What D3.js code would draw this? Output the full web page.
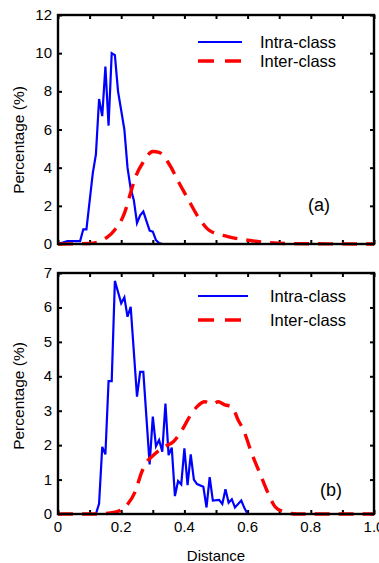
<!doctype html>
<html>
<head>
<meta charset="utf-8">
<script src="https://cdn.jsdelivr.net/npm/d3@7"></script>
<style>
  body { margin: 0; background: #fff; }
  text { font-family: "Liberation Sans", Arial, sans-serif; fill: #000; }
</style>
</head>
<body>
<svg width="379" height="563"></svg>
<script>
// panel (a)
var intraAX = [0, 0.03, 0.07, 0.08, 0.09, 0.11, 0.12, 0.13, 0.14, 0.15, 0.16, 0.17, 0.18, 0.19, 0.21, 0.22, 0.23, 0.24, 0.25, 0.26, 0.27, 0.28, 0.29, 0.30, 0.31, 0.32, 0.33, 1.0];
var intraAY = [0, 0.15, 0.15, 0.77, 0.77, 3.7, 4.7, 7.6, 6.7, 9.3, 6.2, 10.0, 9.9, 8.0, 6.0, 4.0, 2.9, 2.3, 1.1, 1.5, 1.7, 1.2, 0.7, 0.65, 0.2, 0.05, 0, 0];
var interAX = [0, 0.10, 0.155, 0.18, 0.21, 0.23, 0.245, 0.27, 0.30, 0.32, 0.355, 0.38, 0.41, 0.45, 0.48, 0.535, 0.60, 0.66, 0.73, 1.0];
var interAY = [0, 0.03, 0.35, 0.75, 1.6, 2.7, 3.5, 4.3, 4.85, 4.8, 4.1, 3.3, 2.4, 1.26, 0.7, 0.4, 0.2, 0.08, 0.02, 0];

// panel (b)
var intraBX = [0, 0.12, 0.13, 0.14, 0.15, 0.16, 0.17, 0.18, 0.19, 0.20, 0.21, 0.22, 0.23, 0.25, 0.26, 0.27, 0.29, 0.30, 0.31, 0.32, 0.33, 0.34, 0.35, 0.36, 0.37, 0.38, 0.39, 0.40, 0.41, 0.42, 0.43, 0.44, 0.46, 0.47, 0.48, 0.49, 0.51, 0.52, 0.53, 0.54, 0.55, 0.56, 0.58, 0.59, 0.60, 1.0];
var intraBY = [0, 0, 0.3, 1.95, 1.73, 3.86, 3.86, 6.77, 6.45, 6.12, 6.29, 5.73, 6.02, 3.41, 4.13, 4.13, 1.44, 2.83, 1.97, 2.15, 1.81, 3.21, 1.71, 1.93, 0.52, 0.96, 0.86, 1.91, 0.84, 1.73, 1.0, 0.87, 0.79, 0.19, 1.07, 0.39, 0.41, 0.29, 0.72, 0.33, 0.43, 0.19, 0.39, 0.17, 0, 0];
var interBX = [0, 0.12, 0.18, 0.217, 0.244, 0.265, 0.28, 0.30, 0.333, 0.365, 0.39, 0.418, 0.44, 0.465, 0.49, 0.507, 0.528, 0.55, 0.57, 0.587, 0.613, 0.639, 0.665, 0.687, 0.713, 0.755, 1.0];
var interBY = [0, 0, 0.05, 0.25, 0.64, 1.22, 1.5, 1.69, 1.94, 2.1, 2.4, 2.85, 3.12, 3.26, 3.19, 3.26, 3.17, 3.12, 2.73, 2.44, 1.76, 1.18, 0.6, 0.21, 0.07, 0, 0];

var xTicks = [0, 0.1, 0.2, 0.3, 0.4, 0.5, 0.6, 0.7, 0.8, 0.9, 1.0];
var xLabels = [0, 0.2, 0.4, 0.6, 0.8, 1.0];
var seriesNames = ["Intra-class", "Inter-class"];

var svg = d3.select("svg");
var left = 58, right = 374;

var x = d3.scaleLinear().domain([0, 1]).range([left, right]);

function zip(xs, ys) { return xs.map(function(v, i) { return [v, ys[i]]; }); }

function panel(cfg) {
    var y = d3.scaleLinear().domain([0, cfg.ymax]).range([cfg.bottom, cfg.top]);
    var g = svg.append("g");
    var yTicks = d3.range(0, cfg.ymax + 0.001, cfg.ystep);

    // inward ticks on all sides
    g.append("g").attr("transform", "translate(0," + cfg.bottom + ")")
        .call(d3.axisTop(x).tickValues(xTicks).tickSize(4).tickFormat(""));
    g.append("g").attr("transform", "translate(0," + cfg.top + ")")
        .call(d3.axisBottom(x).tickValues(xTicks).tickSize(4).tickFormat(""));
    g.append("g").attr("transform", "translate(" + left + ",0)")
        .call(d3.axisRight(y).tickValues(yTicks).tickSize(4).tickFormat(""));
    g.append("g").attr("transform", "translate(" + right + ",0)")
        .call(d3.axisLeft(y).tickValues(yTicks).tickSize(4).tickFormat(""));
    g.selectAll(".domain").remove();
    g.selectAll(".tick line").attr("stroke", "#000").attr("stroke-width", 2);

    g.selectAll(".ylab").data(yTicks).enter().append("text")
        .attr("x", 52).attr("y", function(d) { return y(d) + 5; })
        .attr("text-anchor", "end").style("font-size", "15px")
        .text(function(d) { return d; });

    var line = d3.line().x(function(d) { return x(d[0]); }).y(function(d) { return y(d[1]); });

    g.append("path").datum(zip(cfg.intraX, cfg.intraY))
        .attr("d", line).attr("fill", "none").attr("stroke", "#0000ff").attr("stroke-width", 2.2);
    g.append("path").datum(zip(cfg.interX, cfg.interY))
        .attr("d", line.curve(d3.curveMonotoneX)).attr("fill", "none")
        .attr("stroke", "#ff0000").attr("stroke-width", 3.4).attr("stroke-dasharray", "15,9");

    g.append("rect").attr("x", left).attr("y", cfg.top)
        .attr("width", right - left).attr("height", cfg.bottom - cfg.top)
        .attr("fill", "none").attr("stroke", "#000").attr("stroke-width", 2.4);

    g.append("text")
        .attr("transform", "translate(24," + cfg.ylabY + ") rotate(-90)")
        .attr("text-anchor", "middle").style("font-size", "15.5px")
        .text("Percentage (%)");

    // legend
    var lg = g.append("g");
    lg.append("line").attr("x1", 198).attr("x2", cfg.legLineEnd).attr("y1", cfg.leg[0]).attr("y2", cfg.leg[0])
        .attr("stroke", "#0000ff").attr("stroke-width", 2.2);
    lg.append("line").attr("x1", 198).attr("x2", cfg.legLineEnd).attr("y1", cfg.leg[1]).attr("y2", cfg.leg[1])
        .attr("stroke", "#ff0000").attr("stroke-width", 3.4).attr("stroke-dasharray", "16,11");
    lg.selectAll("text").data(seriesNames).enter().append("text")
        .attr("x", cfg.legText).attr("y", function(d, i) { return cfg.leg[i] + 6; })
        .style("font-size", "16.5px").text(function(d) { return d; });

    g.append("text").attr("x", cfg.tag[0]).attr("y", cfg.tag[1] + 6)
        .attr("text-anchor", "middle").style("font-size", "18px").text(cfg.tagText);
    return g;
}

panel({ top: 15, bottom: 244, ymax: 12, ystep: 2, intraX: intraAX, intraY: intraAY, interX: interAX, interY: interAY,
    ylabY: 140, leg: [42, 61], legLineEnd: 242, legText: 260, tag: [319, 205], tagText: "(a)" });
panel({ top: 273, bottom: 514, ymax: 7, ystep: 1, intraX: intraBX, intraY: intraBY, interX: interBX, interY: interBY,
    ylabY: 396, leg: [296, 320], legLineEnd: 248, legText: 270, tag: [331, 490], tagText: "(b)" });

svg.selectAll(".xlab").data(xLabels).enter().append("text")
    .attr("x", function(d) { return x(d); }).attr("y", 532)
    .attr("text-anchor", "middle").style("font-size", "15px")
    .text(function(d) { return d === 0 ? "0" : d3.format(".1f")(d); });

svg.append("text").attr("x", 216).attr("y", 561).attr("text-anchor", "middle")
    .style("font-size", "15px").text("Distance");
</script>
</body>
</html>
